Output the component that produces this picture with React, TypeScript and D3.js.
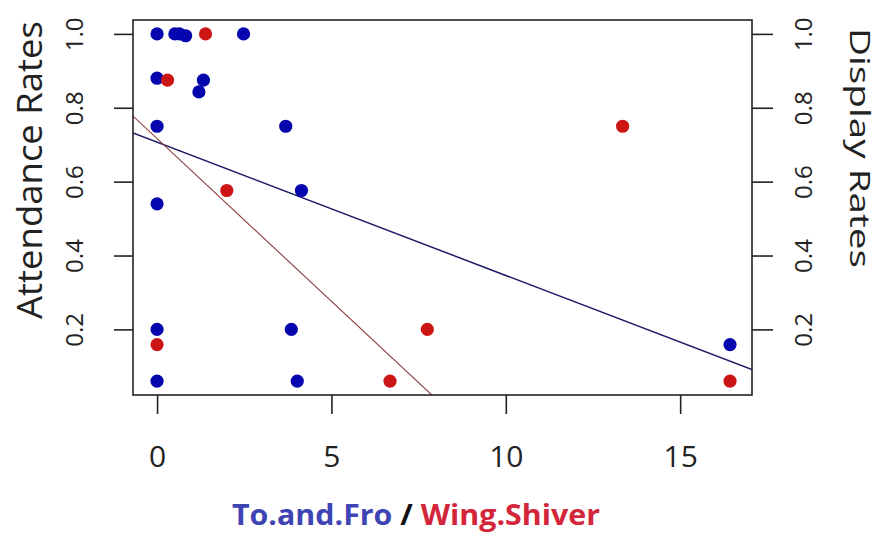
import React, { useRef, useEffect } from 'react';
import * as d3 from 'd3';

// To.and.Fro (blue) points
const toFroX = [0, 0.51, 0.64, 0.82, 2.48, 0, 1.33, 1.2, 0, 3.69, 4.14, 0, 0, 3.85, 0, 4.02, 16.43];
const toFroY = [1.0, 1.0, 1.0, 0.995, 1.0, 0.88, 0.875, 0.843, 0.75, 0.75, 0.576, 0.54, 0.2, 0.2, 0.06, 0.06, 0.159];
// Wing.Shiver (red) points
const wingX = [1.39, 0.3, 2.0, 0, 6.68, 7.75, 13.35, 16.43];
const wingY = [1.0, 0.875, 0.576, 0.159, 0.06, 0.2, 0.75, 0.06];
// regression lines: intercept, slope
const fitNames = ['To.and.Fro', 'Wing.Shiver'];
const fitIntercepts = [0.707, 0.7166];
const fitSlopes = [-0.0361, -0.0881];

const xTicks = [0, 5, 10, 15];
const yTicks = [0.2, 0.4, 0.6, 0.8, 1.0];

const App = () => {
  const svgRef = useRef<SVGSVGElement>(null);

  useEffect(() => {
    const width = 881;
    const height = 537;
    const box = { left: 133, right: 752, top: 20, bottom: 395 };
    const font = '"Open Sans", "Noto Sans", sans-serif';

    const svg = d3.select(svgRef.current)
      .attr('width', width)
      .attr('height', height);

    svg.selectAll('*').remove();

    svg.append('rect').attr('width', width).attr('height', height).attr('fill', '#fff');

    const x = d3.scaleLinear().domain([-0.69, 17.06]).range([box.left, box.right]);
    const y = d3.scaleLinear().domain([0.0224, 1.0376]).range([box.bottom, box.top]);

    svg.append('clipPath').attr('id', 'plot-clip')
      .append('rect')
      .attr('x', box.left).attr('y', box.top)
      .attr('width', box.right - box.left).attr('height', box.bottom - box.top);

    // bottom axis
    const bottom = svg.append('g')
      .attr('transform', `translate(0,${box.bottom})`)
      .call(d3.axisBottom(x).tickValues(xTicks).tickSize(19).tickPadding(32).tickFormat(d3.format('d')));
    bottom.select('.domain').remove();
    bottom.selectAll('line').attr('stroke', '#222').attr('stroke-width', 1.6);
    bottom.selectAll('text')
      .attr('fill', '#222')
      .style('font-family', font)
      .style('font-size', '30px');

    // left axis
    const left = svg.append('g')
      .attr('transform', `translate(${box.left},0)`)
      .call(d3.axisLeft(y).tickValues(yTicks).tickSize(19).tickFormat(d3.format('.1f')));
    left.select('.domain').remove();
    left.selectAll('line').attr('stroke', '#222').attr('stroke-width', 1.6);
    left.selectAll('text')
      .attr('x', null).attr('dy', null)
      .attr('text-anchor', 'middle')
      .attr('transform', 'translate(-50,0) rotate(-90)')
      .attr('fill', '#222')
      .style('font-family', font)
      .style('font-size', '24px');

    // right axis
    const right = svg.append('g')
      .attr('transform', `translate(${box.right},0)`)
      .call(d3.axisRight(y).tickValues(yTicks).tickSize(21).tickFormat(d3.format('.1f')));
    right.select('.domain').remove();
    right.selectAll('line').attr('stroke', '#222').attr('stroke-width', 1.6);
    right.selectAll('text')
      .attr('x', null).attr('dy', null)
      .attr('text-anchor', 'middle')
      .attr('transform', 'translate(60,0) rotate(-90)')
      .attr('fill', '#222')
      .style('font-family', font)
      .style('font-size', '24px');

    // regression lines
    const lineColors = ['#1c1c66', '#8b3a3a'];
    const lineWidths = [1.5, 1.1];
    const lineData = fitNames.map((name, i) => ({
      name,
      pts: x.domain().map(v => [v, fitIntercepts[i] + fitSlopes[i] * v] as [number, number]),
    }));
    const line = d3.line<[number, number]>().x(d => x(d[0])).y(d => y(d[1]));
    svg.append('g').attr('clip-path', 'url(#plot-clip)')
      .selectAll('path')
      .data(lineData)
      .enter()
      .append('path')
      .attr('d', d => line(d.pts))
      .attr('fill', 'none')
      .attr('stroke', (d, i) => lineColors[i])
      .attr('stroke-width', (d, i) => lineWidths[i]);

    // points
    const blue = toFroX.map((v, i) => ({ x: v, y: toFroY[i] }));
    const red = wingX.map((v, i) => ({ x: v, y: wingY[i] }));
    const dots = svg.append('g');
    dots.selectAll('.blue')
      .data(blue)
      .enter()
      .append('circle')
      .attr('cx', d => x(d.x))
      .attr('cy', d => y(d.y))
      .attr('r', 6.6)
      .attr('fill', '#0606ae');
    dots.selectAll('.red')
      .data(red)
      .enter()
      .append('circle')
      .attr('cx', d => x(d.x))
      .attr('cy', d => y(d.y))
      .attr('r', 6.6)
      .attr('fill', '#cc1616');

    // plot box
    svg.append('rect')
      .attr('x', box.left).attr('y', box.top)
      .attr('width', box.right - box.left).attr('height', box.bottom - box.top)
      .attr('fill', 'none')
      .attr('stroke', '#222')
      .attr('stroke-width', 1.6);

    // axis titles
    svg.append('text')
      .attr('transform', 'translate(42,170) rotate(-90)')
      .attr('text-anchor', 'middle')
      .attr('fill', '#222')
      .style('font-family', font)
      .style('font-size', '35px')
      .attr('textLength', 298)
      .attr('lengthAdjust', 'spacingAndGlyphs')
      .text('Attendance Rates');

    svg.append('text')
      .attr('transform', 'translate(850,148) rotate(90)')
      .attr('text-anchor', 'middle')
      .attr('fill', '#222')
      .style('font-family', font)
      .style('font-size', '28px')
      .attr('textLength', 240)
      .attr('lengthAdjust', 'spacingAndGlyphs')
      .text('Display Rates');

    const xlab = svg.append('text')
      .attr('x', 232)
      .attr('y', 525)
      .attr('textLength', 368)
      .attr('lengthAdjust', 'spacingAndGlyphs')
      .style('font-family', font)
      .style('font-size', '28px')
      .style('font-weight', 'bold');
    xlab.append('tspan').attr('fill', '#3f44b4').text('To.and.Fro');
    xlab.append('tspan').attr('fill', '#111').text(' / ');
    xlab.append('tspan').attr('fill', '#d3263a').text('Wing.Shiver');
  }, []);

  return (
    <div style={{ position: 'absolute', left: 0, top: 0 }}>
      <svg ref={svgRef} style={{ display: 'block' }}></svg>
    </div>
  );
};

export default App;
